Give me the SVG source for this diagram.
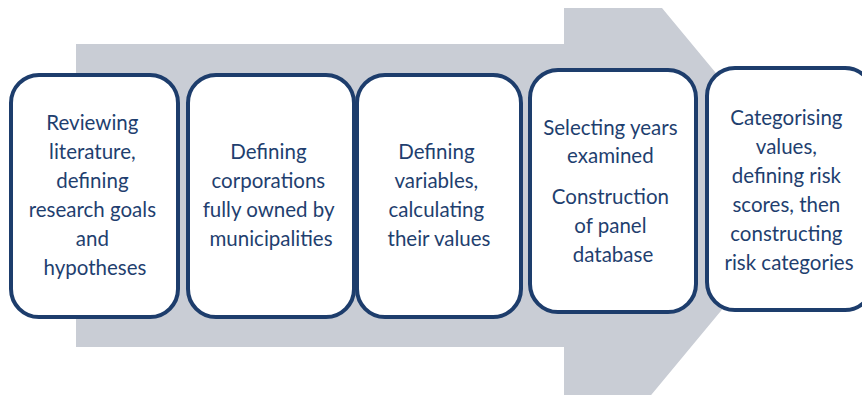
<svg xmlns="http://www.w3.org/2000/svg" width="862" height="395" viewBox="0 0 862 395">
  <style>
    .box { fill: #ffffff; stroke: #1d3d6c; stroke-width: 4; }
    .lbl { font-family: Lato, "Open Sans", "Liberation Sans", sans-serif; font-size: 20.5px; fill: #1f3f6f; text-anchor: middle; }
  </style>
  <rect width="862" height="395" fill="#ffffff"/>
  <g id="arrow">
    <polygon points="76,44 564,44 564,8 662,8 817,195 647,400 564,400 564,347 76,347" fill="#c9cdd5"/>
  </g>
  <g id="connectors"></g>
  <g id="node1">
    <rect class="box" x="11" y="75" width="167" height="242" rx="28" ry="28"/>
    <text class="lbl" x="95">
      <tspan x="95" y="130">Reviewing</tspan>
      <tspan x="95" y="159">literature,</tspan>
      <tspan x="95" y="188">defining</tspan>
      <tspan x="95" y="217">research goals</tspan>
      <tspan x="95" y="246">and</tspan>
      <tspan x="95" y="275">hypotheses</tspan>
    </text>
  </g>
  <g id="node2">
    <rect class="box" x="188" y="75" width="166" height="242" rx="28" ry="28"/>
    <text class="lbl" x="271">
      <tspan x="271" y="159">Defining</tspan>
      <tspan x="271" y="188">corporations</tspan>
      <tspan x="271" y="217">fully owned by</tspan>
      <tspan x="271" y="246">municipalities</tspan>
    </text>
  </g>
  <g id="node3">
    <rect class="box" x="357" y="75" width="164" height="242" rx="28" ry="28"/>
    <text class="lbl" x="439">
      <tspan x="439" y="159">Defining</tspan>
      <tspan x="439" y="188">variables,</tspan>
      <tspan x="439" y="217">calculating</tspan>
      <tspan x="439" y="246">their values</tspan>
    </text>
  </g>
  <g id="node4">
    <rect class="box" x="530" y="70" width="166" height="242" rx="28" ry="28"/>
    <text class="lbl" x="613">
      <tspan x="613" y="135">Selecting years</tspan>
      <tspan x="613" y="163">examined</tspan>
      <tspan x="613" y="204">Construction</tspan>
      <tspan x="613" y="233">of panel</tspan>
      <tspan x="613" y="262">database</tspan>
    </text>
  </g>
  <g id="node5">
    <rect class="box" x="707" y="68" width="166" height="242" rx="28" ry="28"/>
    <text class="lbl" x="789">
      <tspan x="789" y="125">Categorising</tspan>
      <tspan x="789" y="154">values,</tspan>
      <tspan x="789" y="183">defining risk</tspan>
      <tspan x="789" y="212">scores, then</tspan>
      <tspan x="789" y="241">constructing</tspan>
      <tspan x="789" y="270">risk categories</tspan>
    </text>
  </g>
</svg>
